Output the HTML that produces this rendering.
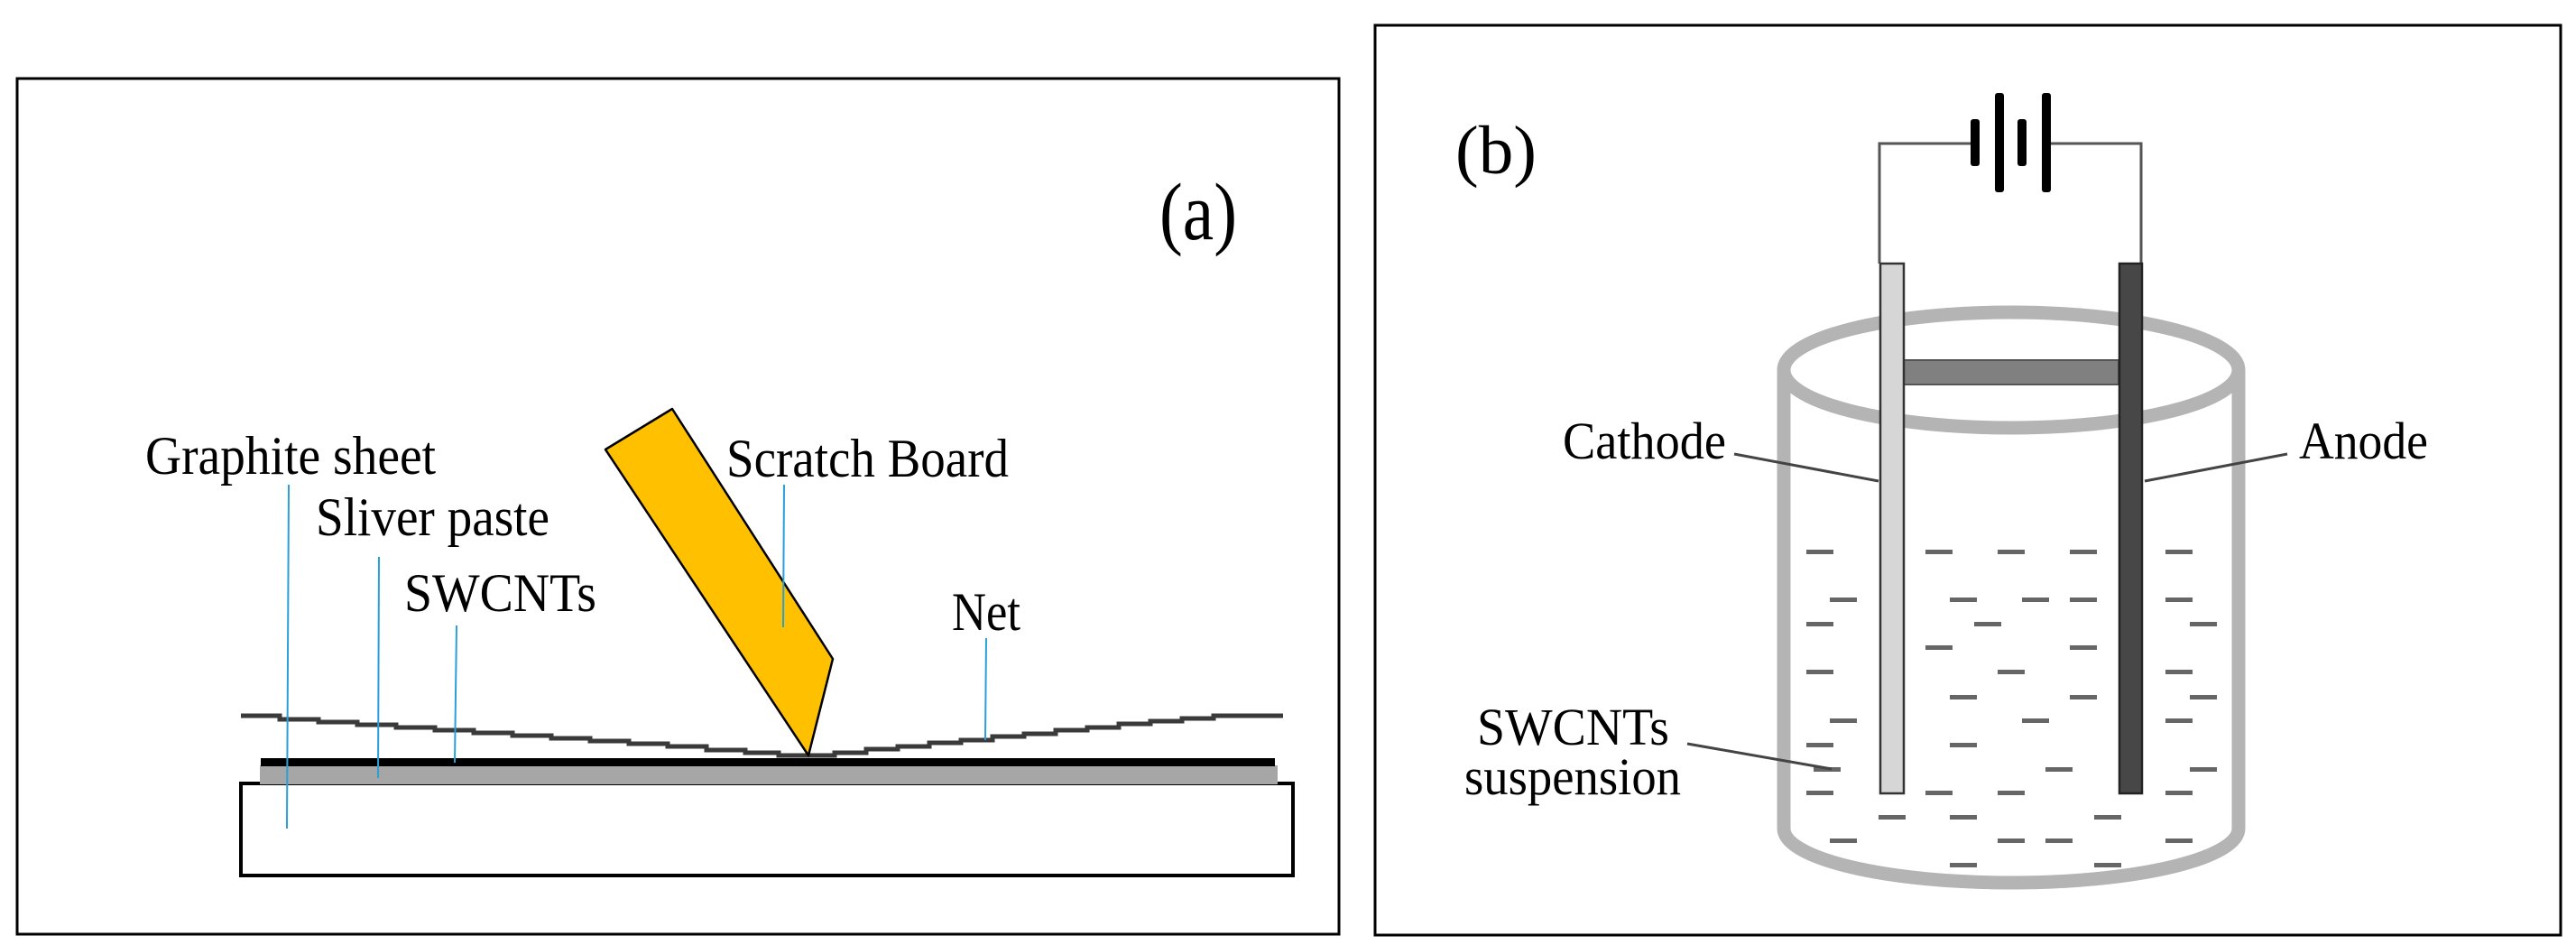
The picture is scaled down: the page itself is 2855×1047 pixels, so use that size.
<!DOCTYPE html>
<html><head><meta charset="utf-8"><style>html,body{margin:0;padding:0;background:#fff}svg{display:block}</style></head>
<body>
<svg width="2855" height="1047" viewBox="0 0 2855 1047" xmlns="http://www.w3.org/2000/svg" font-family="'Liberation Serif', serif">
<!-- Panel a -->
<rect x="19" y="87" width="1465" height="948" fill="#fff" stroke="#000" stroke-width="3"/>
<text x="1285" y="265" font-size="90" textLength="86" lengthAdjust="spacingAndGlyphs">(a)</text>
<!-- base -->
<rect x="267" y="868" width="1166" height="102" fill="#fff" stroke="#000" stroke-width="4"/>
<rect x="288" y="848" width="1128" height="21" fill="#a6a6a6"/>
<rect x="289" y="840" width="1124" height="9" fill="#000"/>
<!-- net -->
<polyline points="267,793 310,793 310,797 353,797 353,800 396,800 396,803 439,803 439,806 482,806 482,809 525,809 525,812 568,812 568,815 611,815 611,818 654,818 654,821 697,821 697,824 740,824 740,827 783,827 783,831 826,831 826,834 863,834 863,837 925,837 925,834 960,834 960,830 995,830 995,827 1030,827 1030,823 1065,823 1065,820 1100,820 1100,816 1135,816 1135,813 1170,813 1170,809 1205,809 1205,806 1240,806 1240,802 1275,802 1275,799 1310,799 1310,796 1345,796 1345,793 1422,793" fill="none" stroke="#3a3a3a" stroke-width="5"/>
<!-- scratch board -->
<polygon points="745,453 923,730 896,837 671,498" fill="#FFC000" stroke="#000" stroke-width="2.5" stroke-linejoin="round"/>
<!-- leaders -->
<g stroke="#2a9fd8" stroke-width="2">
<line x1="320" y1="537" x2="318" y2="918"/>
<line x1="420" y1="617" x2="419" y2="862"/>
<line x1="506" y1="693" x2="504" y2="845"/>
<line x1="869" y1="537" x2="868" y2="695"/>
<line x1="1093" y1="707" x2="1092" y2="820"/>
</g>
<g font-size="60">
<text x="161" y="525" textLength="322" lengthAdjust="spacingAndGlyphs">Graphite sheet</text>
<text x="805" y="528" textLength="313" lengthAdjust="spacingAndGlyphs">Scratch Board</text>
<text x="350" y="593" textLength="259" lengthAdjust="spacingAndGlyphs">Sliver paste</text>
<text x="448" y="677" textLength="213" lengthAdjust="spacingAndGlyphs">SWCNTs</text>
<text x="1055" y="698" textLength="76" lengthAdjust="spacingAndGlyphs">Net</text>
</g>

<!-- Panel b -->
<rect x="1524" y="28" width="1314" height="1008" fill="#fff" stroke="#000" stroke-width="3"/>
<text x="1613" y="192" font-size="76" textLength="90" lengthAdjust="spacingAndGlyphs">(b)</text>
<!-- wires -->
<polyline points="2083,292 2083,159 2189,159" fill="none" stroke="#555" stroke-width="3"/>
<polyline points="2268,159 2373,159 2373,292" fill="none" stroke="#555" stroke-width="3"/>
<g fill="#000">
<rect x="2184" y="132" width="10" height="52" rx="3"/>
<rect x="2211" y="103" width="10" height="110" rx="3"/>
<rect x="2236" y="132" width="10" height="52" rx="3"/>
<rect x="2263" y="103" width="10" height="110" rx="3"/>
</g>
<!-- cylinder -->
<g fill="none" stroke="#b4b4b4" stroke-width="15">
<ellipse cx="2229" cy="410" rx="252" ry="64"/>
<path d="M1977,410 L1977,918 A252,60 0 0 0 2481,918 L2481,410"/>
</g>
<!-- bar -->
<rect x="2110" y="399" width="238" height="27" fill="#808080" stroke="#555" stroke-width="2"/>
<!-- electrodes -->
<rect x="2084" y="292" width="26" height="587" fill="#d6d6d6" stroke="#333" stroke-width="2.5"/>
<rect x="2349" y="292" width="25" height="587" fill="#474747" stroke="#222" stroke-width="2.5"/>
<!-- dashes -->
<g fill="#666">
<rect x="2002" y="609" width="30" height="5"/><rect x="2134" y="609" width="30" height="5"/><rect x="2214" y="609" width="30" height="5"/><rect x="2294" y="609" width="30" height="5"/><rect x="2400" y="609" width="30" height="5"/>
<rect x="2028" y="662" width="30" height="5"/><rect x="2161" y="662" width="30" height="5"/><rect x="2241" y="662" width="30" height="5"/><rect x="2294" y="662" width="30" height="5"/><rect x="2400" y="662" width="30" height="5"/>
<rect x="2002" y="689" width="30" height="5"/><rect x="2188" y="689" width="30" height="5"/><rect x="2427" y="689" width="30" height="5"/>
<rect x="2134" y="715" width="30" height="5"/><rect x="2294" y="715" width="30" height="5"/>
<rect x="2002" y="742" width="30" height="5"/><rect x="2214" y="742" width="30" height="5"/><rect x="2400" y="742" width="30" height="5"/>
<rect x="2161" y="770" width="30" height="5"/><rect x="2294" y="770" width="30" height="5"/><rect x="2427" y="770" width="30" height="5"/>
<rect x="2028" y="796" width="30" height="5"/><rect x="2241" y="796" width="30" height="5"/><rect x="2400" y="796" width="30" height="5"/>
<rect x="2002" y="823" width="30" height="5"/><rect x="2161" y="823" width="30" height="5"/>
<rect x="2010" y="850" width="30" height="5"/><rect x="2267" y="850" width="30" height="5"/><rect x="2427" y="850" width="30" height="5"/>
<rect x="2002" y="876" width="30" height="5"/><rect x="2134" y="876" width="30" height="5"/><rect x="2214" y="876" width="30" height="5"/><rect x="2400" y="876" width="30" height="5"/>
<rect x="2082" y="903" width="30" height="5"/><rect x="2161" y="903" width="30" height="5"/><rect x="2321" y="903" width="30" height="5"/>
<rect x="2028" y="929" width="30" height="5"/><rect x="2214" y="929" width="30" height="5"/><rect x="2267" y="929" width="30" height="5"/><rect x="2400" y="929" width="30" height="5"/>
<rect x="2161" y="956" width="30" height="5"/><rect x="2321" y="956" width="30" height="5"/>
</g>
<!-- leaders -->
<g stroke="#444" stroke-width="3">
<line x1="1922" y1="503" x2="2082" y2="533"/>
<line x1="2535" y1="503" x2="2377" y2="533"/>
<line x1="1870" y1="824" x2="2030" y2="852"/>
</g>
<g font-size="58">
<text x="1732" y="508" textLength="181" lengthAdjust="spacingAndGlyphs">Cathode</text>
<text x="2548" y="508" textLength="143" lengthAdjust="spacingAndGlyphs">Anode</text>
<text x="1637" y="825" textLength="213" lengthAdjust="spacingAndGlyphs">SWCNTs</text>
<text x="1623" y="880" textLength="240" lengthAdjust="spacingAndGlyphs">suspension</text>
</g>
</svg>
</body></html>
